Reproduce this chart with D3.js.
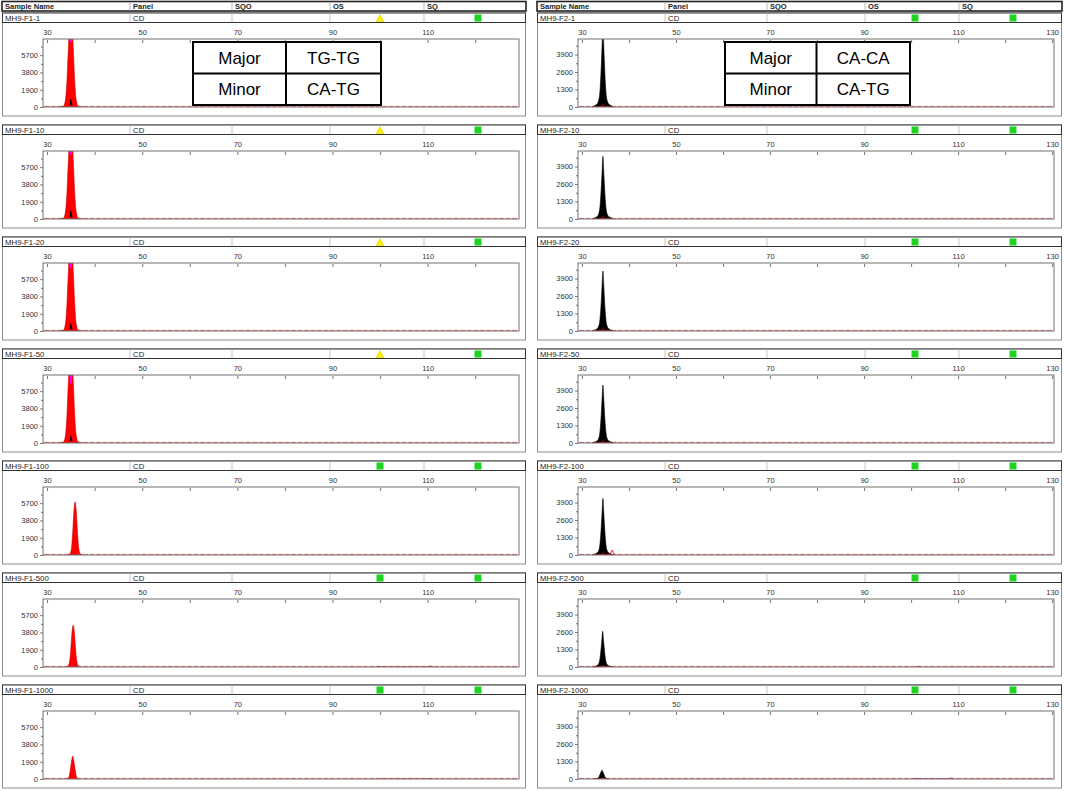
<!DOCTYPE html>
<html><head><meta charset="utf-8">
<script src="https://cdn.jsdelivr.net/npm/d3@7"></script>
<style>
body{margin:0;background:#fff}
svg{display:block}
text{font-family:"Liberation Sans",Arial,sans-serif}
</style>
</head><body>
<svg id="c" width="1065" height="791"></svg>
<script>
// ---------------- DATA ----------------
const headerLabels = ["Sample Name", "Panel", "SQO", "OS", "SQ"];
const panelName = "CD";

const f1Samples = ["MH9-F1-1","MH9-F1-10","MH9-F1-20","MH9-F1-50","MH9-F1-100","MH9-F1-500","MH9-F1-1000"];
const f2Samples = ["MH9-F2-1","MH9-F2-10","MH9-F2-20","MH9-F2-50","MH9-F2-100","MH9-F2-500","MH9-F2-1000"];
const f1OS = ["warn","warn","warn","warn","pass","pass","pass"];
const f1SQ = ["pass","pass","pass","pass","pass","pass","pass"];
const f2OS = ["pass","pass","pass","pass","pass","pass","pass"];
const f2SQ = ["pass","pass","pass","pass","pass","pass","pass"];

const f1XTicks = [30,50,70,90,110];
const f1XMinor = [40,60,80,100,120];
const f2XTicks = [30,50,70,90,110,130];
const f2XMinor = [40,60,80,100,120];
const f1YTicks = [0,1900,3800,5700];
const f1YMinor = [950,2850,4750,6650];
const f2YTicks = [0,1300,2600,3900];
const f2YMinor = [650,1950,3250,4550];

const f1Genotype = [["Major","TG-TG"],["Minor","CA-TG"]];
const f2Genotype = [["Major","CA-CA"],["Minor","CA-TG"]];

// F1: red (main) trace, [size bp, RFU]
const f1Red = [
  [[33.0,0],[33.5,120],[33.9,900],[34.2,3000],[34.45,6000],[34.65,7800],[35.35,7800],[35.55,6000],[35.8,3000],[36.1,900],[36.5,120],[37.0,0]],
  [[33.0,0],[33.5,120],[33.9,900],[34.2,3000],[34.45,6000],[34.65,7800],[35.35,7800],[35.55,6000],[35.8,3000],[36.1,900],[36.5,120],[37.0,0]],
  [[33.0,0],[33.5,120],[33.9,900],[34.2,3100],[34.45,6100],[34.65,7900],[35.35,7900],[35.55,6100],[35.8,3100],[36.1,900],[36.5,120],[37.0,0]],
  [[33.0,0],[33.5,130],[33.9,950],[34.2,3200],[34.45,6300],[34.65,8100],[35.35,8100],[35.55,6300],[35.8,3200],[36.1,950],[36.5,130],[37.0,0]],
  [[34.3,0],[34.8,120],[35.15,800],[35.4,2500],[35.65,4800],[35.9,5850],[36.15,4800],[36.4,2500],[36.65,800],[37.0,120],[37.5,0]],
  [[33.9,0],[34.4,100],[34.75,650],[35.0,2000],[35.25,3800],[35.5,4600],[35.75,3800],[36.0,2000],[36.25,650],[36.6,100],[37.1,0]],
  [[33.9,0],[34.4,60],[34.7,400],[34.95,1200],[35.2,2100],[35.4,2500],[35.6,2100],[35.85,1200],[36.1,400],[36.4,60],[36.9,0]]
];
// F1: saturation marker (RFU range clipped at top)
const f1Saturated = [[7480,7150],[7480,7100],[7480,6950],[7480,6550],null,null,null];
// F1: black trace
const f1Black = [
  [[32.2,0],[33.0,60],[33.8,130],[34.75,200],[34.9,350],[35.0,850],[35.1,350],[35.25,200],[36.2,130],[37.0,60],[37.8,0]],
  [[32.2,0],[33.0,60],[33.8,130],[34.75,200],[34.9,350],[35.0,900],[35.1,350],[35.25,200],[36.2,130],[37.0,60],[37.8,0]],
  [[32.2,0],[33.0,60],[33.8,130],[34.75,200],[34.9,350],[35.0,800],[35.1,350],[35.25,200],[36.2,130],[37.0,60],[37.8,0]],
  [[32.2,0],[33.0,60],[33.8,130],[34.75,200],[34.9,350],[35.0,800],[35.1,350],[35.25,200],[36.2,130],[37.0,60],[37.8,0]],
  [[34.2,0],[34.9,100],[35.9,180],[36.9,100],[37.6,0]],
  [[34.4,0],[35.5,50],[36.6,0]],
  [[34.6,0],[35.4,25],[36.2,0]]
];
// F1: small baseline peaks
const f1Noise = [
  [], [], [], [], [],
  [[99.3,0],[99.8,70],[100.3,0],[110.0,0],[110.6,110],[111.2,0]],
  [[100.0,0],[100.5,40],[101.0,0],[110.2,0],[110.7,50],[111.2,0]]
];

// F2: black (main) trace
const f2Black = [
  [[32.15,0],[32.55,75],[33.15,200],[33.55,480],[33.85,1300],[34.1,3000],[34.3,4800],[34.45,6200],[34.6,4800],[34.8,3000],[35.05,1300],[35.35,480],[35.75,200],[36.35,75],[36.75,0]],
  [[32.15,0],[32.55,60],[33.15,160],[33.55,370],[33.85,1000],[34.1,2300],[34.3,3700],[34.45,4650],[34.6,3700],[34.8,2300],[35.05,1000],[35.35,370],[35.75,160],[36.35,60],[36.75,0]],
  [[32.15,0],[32.55,55],[33.15,150],[33.55,350],[33.85,960],[34.1,2200],[34.3,3550],[34.45,4450],[34.6,3550],[34.8,2200],[35.05,960],[35.35,350],[35.75,150],[36.35,55],[36.75,0]],
  [[32.15,0],[32.55,55],[33.15,150],[33.55,340],[33.85,930],[34.1,2130],[34.3,3450],[34.45,4300],[34.6,3450],[34.8,2130],[35.05,930],[35.35,340],[35.75,150],[36.35,55],[36.75,0]],
  [[32.15,0],[32.55,50],[33.15,145],[33.55,330],[33.85,910],[34.1,2080],[34.3,3350],[34.45,4200],[34.6,3350],[34.8,2080],[35.05,910],[35.35,330],[35.75,145],[36.35,50],[36.75,0]],
  [[32.1,0],[32.5,35],[33.1,90],[33.5,210],[33.8,580],[34.05,1320],[34.25,2120],[34.4,2650],[34.55,2120],[34.75,1320],[35.0,580],[35.3,210],[35.7,90],[36.3,35],[36.7,0]],
  [[32.55,0],[32.95,20],[33.35,60],[33.65,180],[33.9,400],[34.1,560],[34.25,650],[34.4,560],[34.6,400],[34.85,180],[35.15,60],[35.55,20],[35.95,0]]
];
// F2: small red peak under the black one
const f2Red = [
  [[33.8,0],[34.15,80],[34.45,180],[34.75,80],[35.1,0]],
  [[33.8,0],[34.15,75],[34.45,170],[34.75,75],[35.1,0]],
  [[33.8,0],[34.15,75],[34.45,165],[34.75,75],[35.1,0]],
  [[33.8,0],[34.15,70],[34.45,160],[34.75,70],[35.1,0]],
  [[33.8,0],[34.15,60],[34.45,140],[34.75,60],[35.1,0]],
  [[33.8,0],[34.15,45],[34.45,95],[34.75,45],[35.1,0]],
  [[33.8,0],[34.15,20],[34.45,40],[34.75,20],[35.1,0]]
];
// F2: red outlined minor peak
const f2RedOutline = [null,null,null,null,
  [[35.75,0],[36.1,130],[36.42,370],[36.75,130],[37.1,0]],
  null,null];
// F2: small baseline peaks
const f2Noise = [
  [], [], [], [[36.6,0],[37.0,60],[37.5,0]], [],
  [[101.0,0],[101.5,40],[102.0,0]],
  [[100.5,0],[101.2,50],[101.9,0],[107.6,0],[108.4,70],[109.2,0]]
];

// ---------------- DRAWING ----------------
const svg = d3.select("#c");
const panelStep = 112, firstY = 13;

const columns = [
  {x:2, w:524, samples:f1Samples, os:f1OS, sq:f1SQ, xDomain:[29.15,129.2],
   xTicks:f1XTicks, xMinor:f1XMinor, yMax:7480, yTicks:f1YTicks, yMinor:f1YMinor,
   genotype:f1Genotype, table:[193,381]},
  {x:537, w:525, samples:f2Samples, os:f2OS, sq:f2SQ, xDomain:[29.15,130.4],
   xTicks:f2XTicks, xMinor:f2XMinor, yMax:5050, yTicks:f2YTicks, yMinor:f2YMinor,
   genotype:f2Genotype, table:[725,910]}
];
const dividers = [128, 230, 328, 422];
const textX = [3, 131, 233, 331, 425];

const area = (x, y) => d3.area().x(d => x(d[0])).y0(y(0)).y1(d => y(d[1])).curve(d3.curveMonotoneX);
const line = (x, y) => d3.line().x(d => x(d[0])).y(d => y(d[1])).curve(d3.curveMonotoneX);

columns.forEach((col, ci) => {
  // title header row
  const hg = svg.append("g");
  hg.append("rect").attr("x", col.x).attr("y", 1.5).attr("width", col.w).attr("height", 9.5)
    .attr("fill", "#fff").attr("stroke", "#222").attr("stroke-width", 1.6);
  dividers.forEach(d => hg.append("line").attr("x1", col.x + d).attr("x2", col.x + d)
    .attr("y1", 2).attr("y2", 10.5).attr("stroke", "#aaa").attr("stroke-width", 0.8));
  headerLabels.forEach((t, i) => hg.append("text").attr("x", col.x + textX[i]).attr("y", 9)
    .attr("font-size", 7.5).attr("font-weight", "bold").attr("fill", "#222").text(t));

  col.samples.forEach((name, i) => {
    const y0 = firstY + panelStep * i;
    const g = svg.append("g");
    // outer box
    g.append("rect").attr("x", col.x + 0.5).attr("y", y0).attr("width", col.w - 1).attr("height", 103)
      .attr("fill", "#fff").attr("stroke", "#8c8c8c").attr("stroke-width", 1);
    // sample row
    g.append("rect").attr("x", col.x + 0.5).attr("y", y0).attr("width", col.w - 1).attr("height", 9.5)
      .attr("fill", "#fff").attr("stroke", "#333").attr("stroke-width", 1);
    dividers.forEach(d => g.append("line").attr("x1", col.x + d).attr("x2", col.x + d)
      .attr("y1", y0 + 0.5).attr("y2", y0 + 9).attr("stroke", "#bbb").attr("stroke-width", 0.8));
    g.append("text").attr("x", col.x + 3).attr("y", y0 + 7.8).attr("font-size", 7.8).attr("fill", "#222").text(name);
    g.append("text").attr("x", col.x + 131).attr("y", y0 + 7.8).attr("font-size", 7.8).attr("fill", "#222").text(panelName);

    // quality markers
    const drawMarker = (state, cx) => {
      if (state === "warn") {
        g.append("path").attr("d", `M${cx},${y0 + 1.5}L${cx - 4},${y0 + 8.5}L${cx + 4},${y0 + 8.5}Z`)
          .attr("fill", "#ffec00").attr("stroke", "#e0c800").attr("stroke-width", 0.5);
      } else {
        g.append("rect").attr("x", cx - 3.5).attr("y", y0 + 1.5).attr("width", 7).attr("height", 7)
          .attr("fill", "#1fd41f");
      }
    };
    drawMarker(col.os[i], col.x + 378);
    drawMarker(col.sq[i], col.x + 476);

    // scales
    const left = col.x + 41, right = col.x + 517;
    const top = y0 + 26, bottom = y0 + 94;
    const x = d3.scaleLinear().domain(col.xDomain).range([left, right]);
    const y = d3.scaleLinear().domain([0, col.yMax]).range([bottom, top]);

    const clipId = `clip-${ci}-${i}`;
    g.append("clipPath").attr("id", clipId).append("rect")
      .attr("x", left).attr("y", top).attr("width", right - left).attr("height", bottom - top);
    const pg = g.append("g").attr("clip-path", `url(#${clipId})`);

    if (ci === 0) {
      pg.append("path").datum(f1Black[i]).attr("d", area(x, y)).attr("fill", i === 4 ? "#5a6a20" : "#1a0000");
      pg.append("path").datum(f1Red[i]).attr("d", area(x, y)).attr("fill", "#ff0000")
        .attr("stroke", "#d00000").attr("stroke-width", 0.6);
      if (i < 4) {
        const inner = f1Black[i].filter(d => d[0] >= 34.75 && d[0] <= 35.25);
        pg.append("path").datum(inner).attr("d", line(x, y)).attr("fill", "none")
          .attr("stroke", "#000").attr("stroke-width", 1.1);
      }
      if (f1Saturated[i]) {
        const s = f1Saturated[i];
        pg.append("rect").attr("x", x(34.78)).attr("width", x(35.22) - x(34.78))
          .attr("y", y(s[0])).attr("height", y(s[1]) - y(s[0])).attr("fill", "#ff00ff");
      }
      if (f1Noise[i].length) pg.append("path").datum(f1Noise[i]).attr("d", line(x, y))
        .attr("fill", "none").attr("stroke", "#a03040").attr("stroke-width", 0.8);
    } else {
      pg.append("path").datum(f2Black[i]).attr("d", area(x, y)).attr("fill", "#000")
        .attr("stroke", "#000").attr("stroke-width", 0.6);
      pg.append("path").datum(f2Red[i]).attr("d", line(x, y)).attr("fill", "none")
        .attr("stroke", "#e00000").attr("stroke-width", 1);
      if (f2RedOutline[i]) pg.append("path").datum(f2RedOutline[i]).attr("d", line(x, y))
        .attr("fill", "none").attr("stroke", "#ff0000").attr("stroke-width", 1);
      if (f2Noise[i].length) pg.append("path").datum(f2Noise[i]).attr("d", line(x, y))
        .attr("fill", "none").attr("stroke", i === 3 ? "#6a9a30" : "#303070").attr("stroke-width", 0.8);
    }

    // frame
    g.append("rect").attr("x", left).attr("y", top).attr("width", right - left).attr("height", bottom - top)
      .attr("fill", "none").attr("stroke", "#707070").attr("stroke-width", 1);
    // baseline noise trace
    g.append("line").attr("x1", left + 1).attr("x2", right - 1).attr("y1", bottom - 0.6).attr("y2", bottom - 0.6)
      .attr("stroke", "#b84040").attr("stroke-width", 0.9).attr("stroke-dasharray", "5,1.5").attr("opacity", 0.75);

    // axes
    const xa = g.append("g").attr("transform", `translate(0,${top})`)
      .call(d3.axisTop(x).tickValues(col.xTicks).tickSize(3).tickPadding(1).tickFormat(d3.format("d")));
    const xm = g.append("g").attr("transform", `translate(0,${top})`)
      .call(d3.axisTop(x).tickValues(col.xMinor).tickSize(3).tickFormat(""));
    const ya = g.append("g").attr("transform", `translate(${left},0)`)
      .call(d3.axisLeft(y).tickValues(col.yTicks).tickSize(3).tickPadding(2).tickFormat(d3.format("d")));
    const ym = g.append("g").attr("transform", `translate(${left},0)`)
      .call(d3.axisLeft(y).tickValues(col.yMinor).tickSize(2).tickFormat(""));
    [xa, xm, ya, ym].forEach(a => {
      a.select(".domain").remove();
      a.selectAll("line").attr("stroke", "#555").attr("stroke-width", 0.8);
      a.selectAll("text").attr("font-size", 7.5).attr("fill", "#333")
        .attr("font-family", "'Liberation Sans', Arial, sans-serif");
    });
    xa.selectAll(".tick line").attr("y2", 4).attr("y1", 1);
    xm.selectAll(".tick line").attr("y2", 4).attr("y1", 1);

    // genotype table on first panel
    if (i === 0) {
      const [tx0, tx1] = col.table;
      const ty0 = 42, ty1 = 105, tmx = (tx0 + tx1) / 2 - 1, tmy = (ty0 + ty1) / 2;
      const tg = g.append("g");
      tg.append("rect").attr("x", tx0).attr("y", ty0).attr("width", tx1 - tx0).attr("height", ty1 - ty0)
        .attr("fill", "#fff").attr("stroke", "#000").attr("stroke-width", 2);
      tg.append("line").attr("x1", tmx).attr("x2", tmx).attr("y1", ty0).attr("y2", ty1).attr("stroke", "#000").attr("stroke-width", 2);
      tg.append("line").attr("x1", tx0).attr("x2", tx1).attr("y1", tmy).attr("y2", tmy).attr("stroke", "#000").attr("stroke-width", 2);
      col.genotype.forEach((row, r) => {
        const cy = r === 0 ? (ty0 + tmy) / 2 : (tmy + ty1) / 2;
        [[(tx0 + tmx) / 2, row[0]], [(tmx + tx1) / 2, row[1]]].forEach(([cx, t]) => {
          tg.append("text").attr("x", cx).attr("y", cy + 6).attr("text-anchor", "middle")
            .attr("font-family", "'Noto Sans', 'Open Sans', sans-serif").attr("font-size", 17)
            .attr("fill", "#000").text(t);
        });
      });
    }
  });
});
</script>
</body></html>
